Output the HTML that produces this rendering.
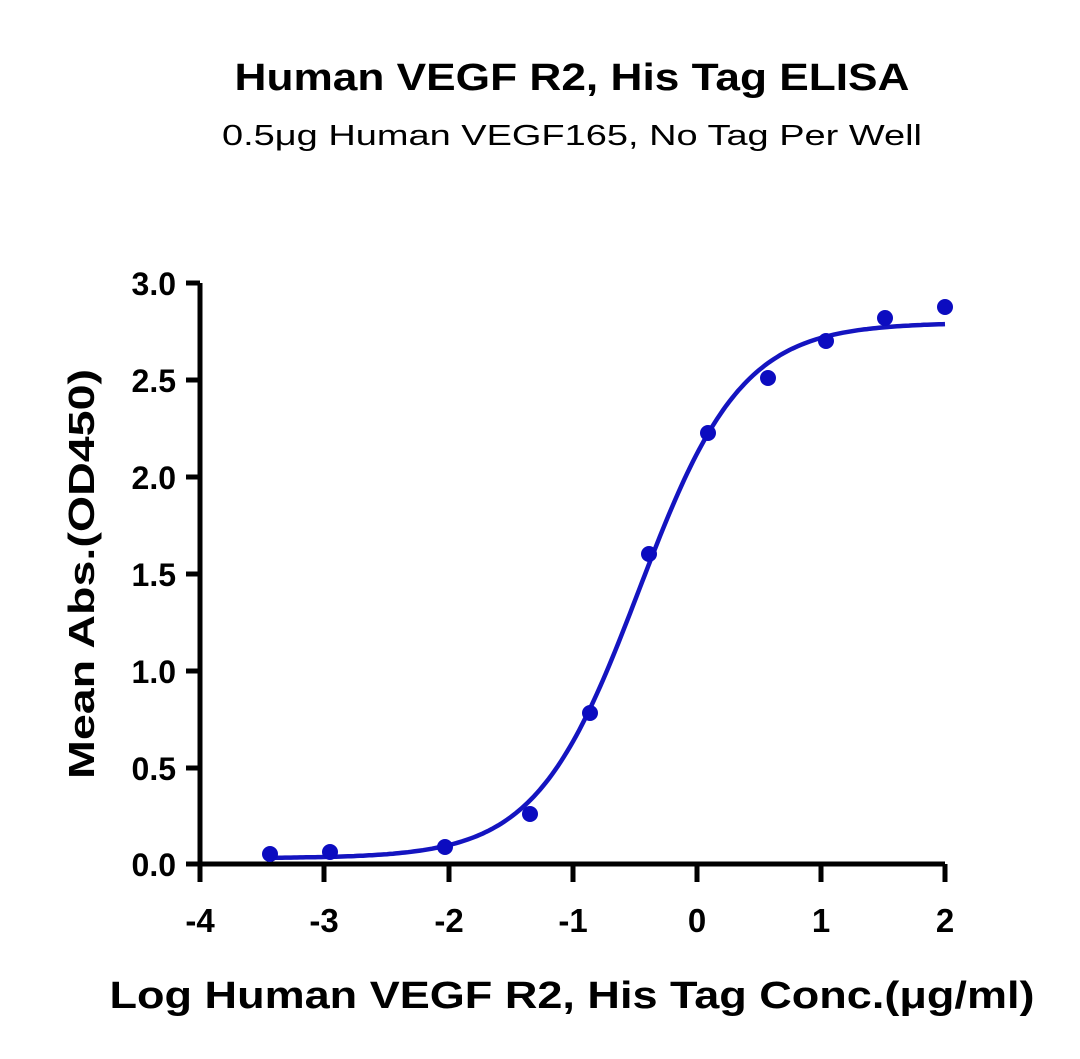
<!DOCTYPE html><html><head><style>body{margin:0;background:#fff}svg{display:block}text{font-family:"Liberation Sans",sans-serif;font-weight:bold;fill:#000}</style></head><body>
<svg width="1080" height="1059" xmlns="http://www.w3.org/2000/svg">
<text x="572" y="90" font-size="38" text-anchor="middle" textLength="675" lengthAdjust="spacingAndGlyphs">Human VEGF R2, His Tag ELISA</text>
<text x="572" y="145" font-size="29" text-anchor="middle" style="font-weight:normal" textLength="700" lengthAdjust="spacingAndGlyphs">0.5μg Human VEGF165, No Tag Per Well</text>
<g stroke="#000" stroke-width="5" fill="none">
<path d="M200 283V864H945"/>
<path d="M186 283H200M186 380H200M186 477H200M186 574H200M186 671H200M186 768H200M186 864H200"/>
<path d="M200 864V882M324 864V882M449 864V882M573 864V882M697 864V882M821 864V882M945 864V882"/>
</g>
<g font-size="32" text-anchor="end">
<text x="176" y="295">3.0</text><text x="176" y="392">2.5</text><text x="176" y="489">2.0</text><text x="176" y="586">1.5</text><text x="176" y="683">1.0</text><text x="176" y="780">0.5</text><text x="176" y="876">0.0</text>
</g>
<g font-size="33" text-anchor="middle">
<text x="200" y="932">-4</text><text x="324" y="932">-3</text><text x="449" y="932">-2</text><text x="573" y="932">-1</text><text x="697" y="932">0</text><text x="821" y="932">1</text><text x="945" y="932">2</text>
</g>
<text transform="translate(94,574) rotate(-90)" font-size="36" text-anchor="middle" textLength="410" lengthAdjust="spacingAndGlyphs">Mean Abs.(OD450)</text>
<text x="572" y="1008" font-size="38" text-anchor="middle" textLength="925" lengthAdjust="spacingAndGlyphs">Log Human VEGF R2, His Tag Conc.(μg/ml)</text>
<path id="c" fill="none" stroke="#1414c0" stroke-width="4.5"/>
<g fill="#0c0cc0">
<circle cx="270" cy="854" r="8"/><circle cx="330" cy="852" r="8"/><circle cx="445" cy="847" r="8"/><circle cx="530" cy="814" r="8"/><circle cx="590" cy="713" r="8"/><circle cx="649" cy="554" r="8"/><circle cx="708" cy="433" r="8"/><circle cx="768" cy="378" r="8"/><circle cx="826" cy="341" r="8"/><circle cx="885" cy="318" r="8"/><circle cx="945" cy="307" r="8"/>
</g>
</svg>
<script>
var d="";for(var px=270;px<=945;px+=3){var x=-4+(px-200)/124;var y=0.03+2.76/(1+Math.pow(10,(-0.461-x)*1.045));d+=(d?"L":"M")+px+" "+(864-y*194).toFixed(1);}
document.getElementById("c").setAttribute("d",d);
</script>
</body></html>
